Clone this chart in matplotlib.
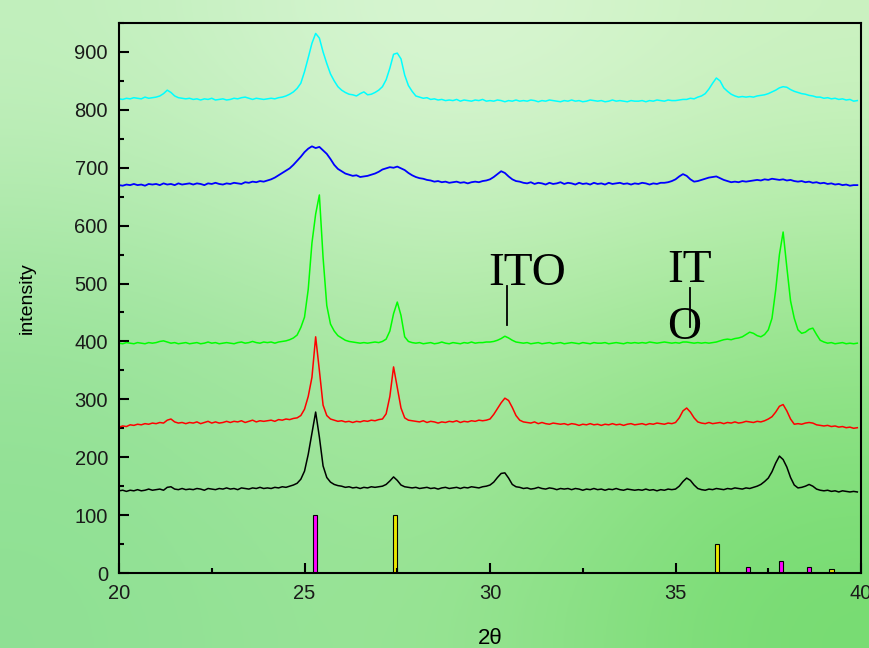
import matplotlib
matplotlib.use("Agg")
import matplotlib.pyplot as plt
import numpy as np
from matplotlib.ticker import MultipleLocator

# 2-theta grid, 0.1 deg step from 20.0 to 39.9
two_theta = np.round(20 + 0.1 * np.arange(200), 1)

# intensities (counts, offset per sample), one row per degree
cyan_y = [
    819, 818, 820, 819, 821, 820, 819, 822, 820, 821,
    822, 824, 828, 834, 830, 824, 821, 820, 819, 820,
    818, 819, 817, 819, 818, 820, 817, 818, 819, 817,
    818, 820, 819, 821, 822, 820, 818, 820, 819, 818,
    819, 820, 819, 821, 822, 824, 827, 831, 837, 846,
    866, 890, 915, 932, 924, 900, 880, 862, 850, 840,
    834, 830, 827, 826, 824, 828, 831, 826, 827, 830,
    834, 840, 852, 872, 896, 898, 888, 860, 842, 832,
    824, 822, 820, 821, 818, 819, 817, 818, 816, 817,
    816, 818, 815, 817, 816, 815, 817, 816, 818, 815,
    816, 815, 817, 816, 814, 816, 815, 817, 815, 816,
    815, 817, 816, 814, 816, 815, 817, 816, 815, 814,
    816, 815, 817, 815, 816, 814, 815, 817, 816, 815,
    816, 814, 815, 817, 815, 816, 815, 814, 816, 815,
    815, 816, 814, 816, 815, 817, 816, 815, 817, 816,
    816, 817, 818, 818, 820, 819, 822, 824, 828, 836,
    846, 855, 850, 838, 832, 827, 824, 822, 823, 822,
    823, 822, 824, 825, 826, 828, 831, 834, 838, 840,
    839, 835, 832, 830, 828, 827, 825, 824, 822, 822,
    820, 821, 819, 820, 818, 819, 817, 818, 815, 816,
]
blue_y = [
    670, 669, 671, 670, 672, 670, 671, 669, 672, 671,
    672, 670, 673, 671, 672, 670, 673, 671, 672, 673,
    671, 673, 672, 670, 673, 672, 674, 672, 671, 673,
    672, 674, 673, 672, 675, 674, 676, 675, 677, 676,
    678, 680, 683, 687, 691, 695, 699, 705, 712, 719,
    727, 733, 737, 734, 736, 730, 724, 715, 705, 698,
    694, 690, 688, 686, 687, 684, 685, 686, 688, 690,
    693, 697, 699, 701, 700, 702, 699, 696, 691, 687,
    684, 682, 681, 679, 678, 676, 677, 675, 676, 674,
    675, 676, 674, 675, 673, 675, 676, 675, 677, 678,
    680, 684, 689, 694, 691, 685, 680, 677, 676, 674,
    673, 675, 672, 674, 673, 671, 674, 672, 673, 675,
    672, 674, 673, 671, 674, 672, 673, 671, 674, 672,
    673, 671, 674, 672, 673, 674, 672, 673, 671, 673,
    672, 674, 673, 671, 673, 672, 674, 674, 675, 677,
    680, 685, 689, 686, 680, 676, 677, 679, 681, 683,
    684, 685, 682, 679, 677, 675, 676, 675, 677, 676,
    677, 678, 679, 678, 680, 679, 681, 680, 679, 680,
    678, 679, 677, 676, 677, 675, 676, 674, 675, 673,
    674, 672, 673, 671, 672, 670, 671, 669, 670, 670,
]
green_y = [
    397, 396, 398, 397, 396, 398, 397, 396, 398, 397,
    398, 400, 401, 399, 397, 398, 396, 397, 398, 396,
    397, 398, 396, 397, 399, 397, 398, 396, 397, 398,
    397, 396, 398, 399, 397, 398, 400, 398, 397, 399,
    398, 399, 397, 399, 400, 401, 403, 406, 411, 424,
    442, 490, 570, 620, 653, 545, 462, 430, 418, 410,
    406, 402, 400, 399, 398, 397, 398, 397, 398, 399,
    398, 400, 404, 418, 448, 468, 445, 408, 400, 398,
    397, 398, 396, 397, 398, 396, 397, 399, 397, 396,
    398, 397, 396, 398, 397, 399, 397, 398, 398, 399,
    399, 400, 402, 405, 409, 406, 402, 399, 398, 397,
    398, 396, 397, 398, 396, 397, 398, 396, 397, 398,
    396, 397, 398, 397, 396, 398, 397, 396, 398, 397,
    397, 398, 396, 397, 398, 397, 396, 398, 397, 398,
    397, 398, 397, 399, 398, 397, 398, 399, 398, 397,
    398, 397, 399, 399, 398, 397, 398, 397, 398, 397,
    398, 399, 401, 403, 404, 403, 405, 406, 408, 412,
    416, 414, 410, 408, 412, 420, 440, 489, 550, 589,
    528, 470, 440, 420, 414, 416, 421, 423, 412, 402,
    399, 397, 398, 396, 397, 398, 396, 397, 396, 397,
]
red_y = [
    252, 254, 253, 256, 255, 257, 256, 258, 257, 259,
    258, 260, 259, 264, 266, 261, 259, 260, 258, 260,
    259, 261, 258, 260, 262, 259, 261, 259, 260, 262,
    260, 262, 261, 263, 260, 262, 264, 261, 263, 262,
    263, 264, 262, 265, 264, 266, 265, 267, 268, 272,
    283, 305, 338, 408, 350, 290, 272, 266, 264, 262,
    263, 261, 262, 260, 262, 261, 263, 262, 264, 263,
    265, 266, 275, 305, 356, 320, 285, 268, 264, 263,
    262, 261, 263, 260, 262, 261, 259, 261, 260, 262,
    261, 263, 260, 262, 261, 263, 262, 264, 263, 264,
    266, 274, 284, 294, 302, 298, 286, 272, 264, 261,
    260, 259, 261, 258, 260, 258, 257, 259, 258, 257,
    258, 256, 258, 257, 255, 257, 256, 258, 256, 257,
    255, 257, 256, 258, 256, 257, 255, 257, 258, 256,
    257, 258, 256, 258, 257, 259, 258, 257, 259, 258,
    260, 268, 280, 285, 278, 268, 261, 259, 258, 260,
    258, 259, 260, 258, 260, 259, 261, 259, 260, 262,
    261, 260, 262, 261, 263, 266, 270, 278, 288, 291,
    280, 266, 257, 258, 257, 259, 260, 259, 256, 255,
    254, 255, 253, 254, 252, 253, 251, 252, 250, 251,
]
black_y = [
    142, 143, 141, 143, 142, 144, 142, 143, 145, 143,
    144, 145, 143, 148, 149, 145, 144, 146, 144, 145,
    144, 146, 145, 143, 146, 145, 144, 146, 145, 147,
    145, 146, 144, 147, 146, 145, 147, 146, 148, 146,
    147, 146, 148, 147, 149, 148, 150, 152, 155, 162,
    176, 205, 242, 278, 235, 185, 165, 157, 153, 151,
    150, 148, 149, 147, 148, 146, 148, 147, 149, 148,
    149, 150, 153, 159, 166, 160, 152, 149, 148, 147,
    148, 146, 147, 148, 146, 147, 145, 147, 148, 146,
    147, 148, 146, 148, 147, 149, 148, 147, 149, 150,
    152, 157, 165, 172, 173, 164, 153, 149, 148, 146,
    147, 145, 146, 148, 146, 145, 147, 146, 144, 146,
    145, 146, 144, 146, 145, 143, 145, 144, 146, 144,
    145, 143, 145, 144, 146, 144, 143, 145, 144, 143,
    144, 143, 145, 143, 144, 142, 144, 143, 145, 144,
    145, 150, 158, 164, 160, 152, 146, 144, 143, 145,
    144, 146, 145, 144, 146, 145, 147, 146, 145, 147,
    146, 148, 150, 153, 158, 164, 175, 190, 202, 196,
    183, 165, 152, 147, 148, 150, 153, 150, 145, 143,
    142, 143, 141, 142, 140, 142, 141, 140, 141, 140,
]

# reference pattern lines
ref_magenta_pos = [25.28, 36.95, 37.84, 38.60]
ref_magenta_h = [100, 10, 20, 10]
ref_yellow_pos = [27.44, 36.12, 39.20]
ref_yellow_h = [100, 50, 7]

fig = plt.figure(figsize=(8.7, 6.48), dpi=100)

# soft green backdrop
bg = fig.add_axes([0, 0, 1, 1], zorder=-10)
corners = np.array([
    [[0.76, 0.94, 0.74], [0.88, 0.97, 0.86], [0.80, 0.95, 0.76]],
    [[0.60, 0.89, 0.60], [0.70, 0.92, 0.66], [0.60, 0.90, 0.56]],
    [[0.56, 0.88, 0.58], [0.62, 0.90, 0.60], [0.46, 0.86, 0.44]],
])
bg.imshow(corners, aspect="auto", interpolation="bicubic", extent=[0, 1, 0, 1])
bg.set_axis_off()

ax = fig.add_axes([0.1368, 0.1157, 0.8529, 0.8488])
ax.set_facecolor("none")

lw = 1.1
ax.plot(two_theta, black_y, color="black", lw=lw)
ax.plot(two_theta, red_y, color="#ff0000", lw=lw)
ax.plot(two_theta, green_y, color="#00ff00", lw=lw)
ax.plot(two_theta, blue_y, color="#0000ff", lw=1.3)
ax.plot(two_theta, cyan_y, color="#00ffff", lw=lw)

ax.bar(ref_magenta_pos, ref_magenta_h, width=0.12, color="#ff00ff",
       edgecolor="black", linewidth=0.8)
ax.bar(ref_yellow_pos, ref_yellow_h, width=0.12, color="#e8e800",
       edgecolor="black", linewidth=0.8)

# ITO markers
serif = "Liberation Serif"
ax.text(31.0, 497, "ITO", fontsize=34, family=serif, ha="center", va="baseline")
ax.plot([30.46, 30.46], [428, 496], color="black", lw=1.3)
ax.text(34.77, 503, "IT", fontsize=34, family=serif, ha="left", va="baseline")
ax.text(34.77, 404, "O", fontsize=34, family=serif, ha="left", va="baseline")
ax.plot([35.39, 35.39], [425, 492], color="black", lw=1.3)

ax.set_xlim(20, 40)
ax.set_ylim(0, 950)
ax.xaxis.set_major_locator(MultipleLocator(5))
ax.xaxis.set_minor_locator(MultipleLocator(2.5))
ax.yaxis.set_major_locator(MultipleLocator(100))
ax.yaxis.set_minor_locator(MultipleLocator(50))
ax.tick_params(which="both", direction="in", width=1.5, colors="black",
               labelsize=14.5, pad=8, top=False, right=False)
ax.tick_params(which="major", length=7)
ax.tick_params(which="minor", length=3.5)
for lab in ax.get_xticklabels() + ax.get_yticklabels():
    lab.set_family("Liberation Sans")
    lab.set_color("#1a1a1a")
for sp in ax.spines.values():
    sp.set_linewidth(1.5)

ax.set_xlabel("2θ", fontsize=16, family="Liberation Sans", labelpad=18)
ax.set_ylabel("intensity", fontsize=14, family="Liberation Sans", labelpad=28)

fig.savefig("out.png", dpi=100)
